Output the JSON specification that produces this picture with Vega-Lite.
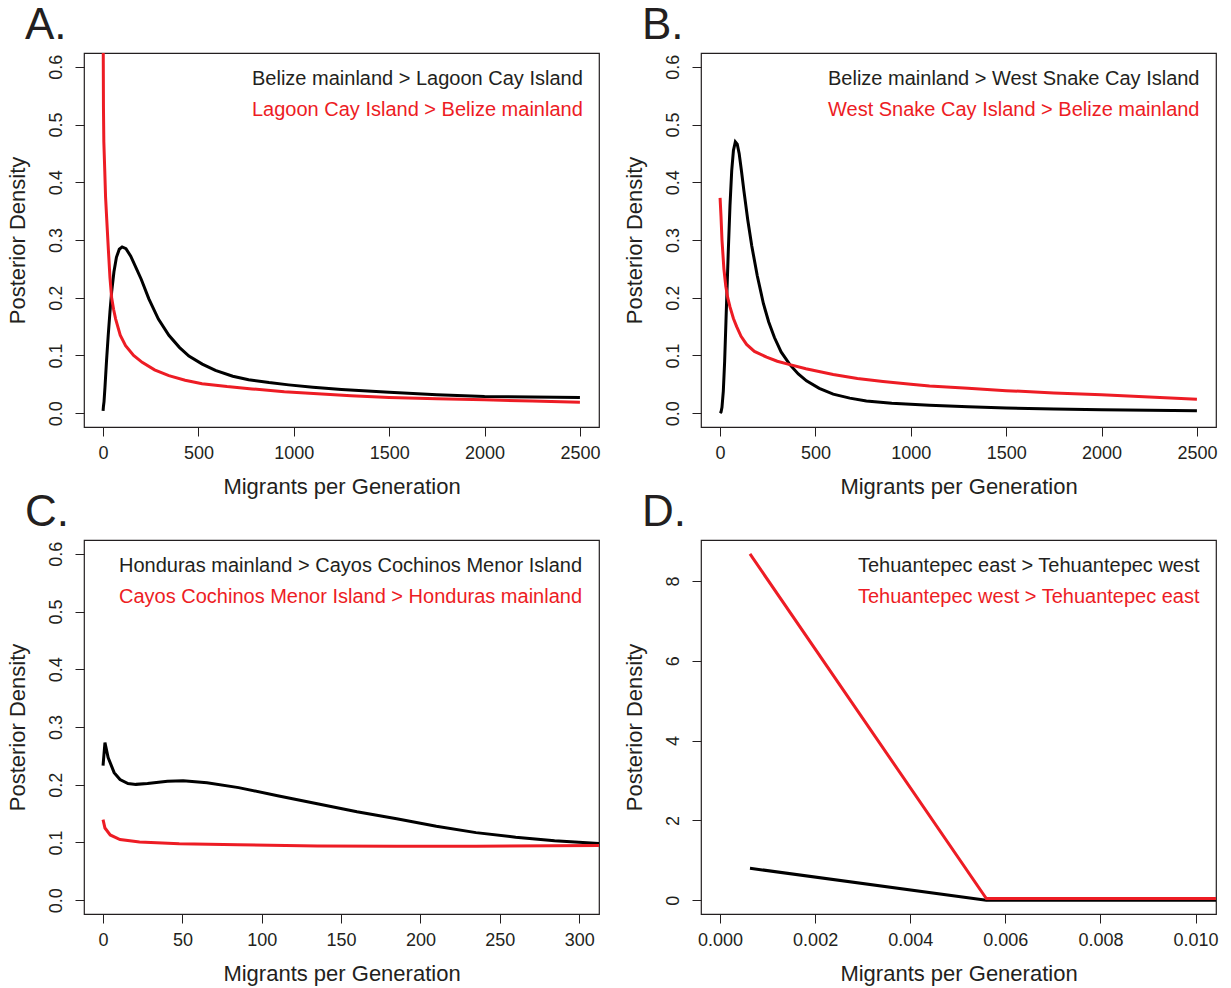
{
  "$schema": "https://vega.github.io/schema/vega-lite/v6.json",
  "background": "white",
  "padding": {"left": 5, "top": 3, "right": 5, "bottom": 5},
  "columns": 2,
  "spacing": {"row": -8, "column": 21},
  "datasets": {
    "a": [
      {"x": 0, "y": 0.004, "s": "Belize mainland > Lagoon Cay Island"},
      {"x": 2, "y": 0.012, "s": "Belize mainland > Lagoon Cay Island"},
      {"x": 5, "y": 0.02, "s": "Belize mainland > Lagoon Cay Island"},
      {"x": 10, "y": 0.045, "s": "Belize mainland > Lagoon Cay Island"},
      {"x": 18, "y": 0.09, "s": "Belize mainland > Lagoon Cay Island"},
      {"x": 27, "y": 0.135, "s": "Belize mainland > Lagoon Cay Island"},
      {"x": 36, "y": 0.175, "s": "Belize mainland > Lagoon Cay Island"},
      {"x": 45, "y": 0.21, "s": "Belize mainland > Lagoon Cay Island"},
      {"x": 57, "y": 0.245, "s": "Belize mainland > Lagoon Cay Island"},
      {"x": 70, "y": 0.27, "s": "Belize mainland > Lagoon Cay Island"},
      {"x": 85, "y": 0.284, "s": "Belize mainland > Lagoon Cay Island"},
      {"x": 100, "y": 0.288, "s": "Belize mainland > Lagoon Cay Island"},
      {"x": 120, "y": 0.285, "s": "Belize mainland > Lagoon Cay Island"},
      {"x": 145, "y": 0.272, "s": "Belize mainland > Lagoon Cay Island"},
      {"x": 170, "y": 0.254, "s": "Belize mainland > Lagoon Cay Island"},
      {"x": 200, "y": 0.232, "s": "Belize mainland > Lagoon Cay Island"},
      {"x": 240, "y": 0.198, "s": "Belize mainland > Lagoon Cay Island"},
      {"x": 290, "y": 0.163, "s": "Belize mainland > Lagoon Cay Island"},
      {"x": 345, "y": 0.135, "s": "Belize mainland > Lagoon Cay Island"},
      {"x": 400, "y": 0.114, "s": "Belize mainland > Lagoon Cay Island"},
      {"x": 450, "y": 0.099, "s": "Belize mainland > Lagoon Cay Island"},
      {"x": 520, "y": 0.085, "s": "Belize mainland > Lagoon Cay Island"},
      {"x": 589, "y": 0.074, "s": "Belize mainland > Lagoon Cay Island"},
      {"x": 680, "y": 0.064, "s": "Belize mainland > Lagoon Cay Island"},
      {"x": 763, "y": 0.058, "s": "Belize mainland > Lagoon Cay Island"},
      {"x": 870, "y": 0.053, "s": "Belize mainland > Lagoon Cay Island"},
      {"x": 973, "y": 0.049, "s": "Belize mainland > Lagoon Cay Island"},
      {"x": 1100, "y": 0.045, "s": "Belize mainland > Lagoon Cay Island"},
      {"x": 1250, "y": 0.041, "s": "Belize mainland > Lagoon Cay Island"},
      {"x": 1500, "y": 0.036, "s": "Belize mainland > Lagoon Cay Island"},
      {"x": 1750, "y": 0.032, "s": "Belize mainland > Lagoon Cay Island"},
      {"x": 2000, "y": 0.029, "s": "Belize mainland > Lagoon Cay Island"},
      {"x": 2250, "y": 0.028, "s": "Belize mainland > Lagoon Cay Island"},
      {"x": 2500, "y": 0.027, "s": "Belize mainland > Lagoon Cay Island"},
      {"x": 0, "y": 0.9, "s": "Lagoon Cay Island > Belize mainland"},
      {"x": 1, "y": 0.62, "s": "Lagoon Cay Island > Belize mainland"},
      {"x": 2, "y": 0.53, "s": "Lagoon Cay Island > Belize mainland"},
      {"x": 4, "y": 0.47, "s": "Lagoon Cay Island > Belize mainland"},
      {"x": 8.5, "y": 0.424, "s": "Lagoon Cay Island > Belize mainland"},
      {"x": 13, "y": 0.375, "s": "Lagoon Cay Island > Belize mainland"},
      {"x": 19, "y": 0.337, "s": "Lagoon Cay Island > Belize mainland"},
      {"x": 28, "y": 0.282, "s": "Lagoon Cay Island > Belize mainland"},
      {"x": 36, "y": 0.235, "s": "Lagoon Cay Island > Belize mainland"},
      {"x": 45, "y": 0.2, "s": "Lagoon Cay Island > Belize mainland"},
      {"x": 55, "y": 0.18, "s": "Lagoon Cay Island > Belize mainland"},
      {"x": 66, "y": 0.163, "s": "Lagoon Cay Island > Belize mainland"},
      {"x": 90, "y": 0.135, "s": "Lagoon Cay Island > Belize mainland"},
      {"x": 118, "y": 0.117, "s": "Lagoon Cay Island > Belize mainland"},
      {"x": 160, "y": 0.1, "s": "Lagoon Cay Island > Belize mainland"},
      {"x": 205, "y": 0.088, "s": "Lagoon Cay Island > Belize mainland"},
      {"x": 270, "y": 0.075, "s": "Lagoon Cay Island > Belize mainland"},
      {"x": 345, "y": 0.065, "s": "Lagoon Cay Island > Belize mainland"},
      {"x": 430, "y": 0.057, "s": "Lagoon Cay Island > Belize mainland"},
      {"x": 519, "y": 0.051, "s": "Lagoon Cay Island > Belize mainland"},
      {"x": 650, "y": 0.046, "s": "Lagoon Cay Island > Belize mainland"},
      {"x": 781, "y": 0.042, "s": "Lagoon Cay Island > Belize mainland"},
      {"x": 950, "y": 0.037, "s": "Lagoon Cay Island > Belize mainland"},
      {"x": 1147, "y": 0.033, "s": "Lagoon Cay Island > Belize mainland"},
      {"x": 1300, "y": 0.03, "s": "Lagoon Cay Island > Belize mainland"},
      {"x": 1500, "y": 0.027, "s": "Lagoon Cay Island > Belize mainland"},
      {"x": 1750, "y": 0.025, "s": "Lagoon Cay Island > Belize mainland"},
      {"x": 2000, "y": 0.023, "s": "Lagoon Cay Island > Belize mainland"},
      {"x": 2250, "y": 0.021, "s": "Lagoon Cay Island > Belize mainland"},
      {"x": 2500, "y": 0.019, "s": "Lagoon Cay Island > Belize mainland"}
    ],
    "b": [
      {"x": 0, "y": 0, "s": "Belize mainland > West Snake Cay Island"},
      {"x": 5, "y": 0.002, "s": "Belize mainland > West Snake Cay Island"},
      {"x": 10, "y": 0.01, "s": "Belize mainland > West Snake Cay Island"},
      {"x": 17, "y": 0.038, "s": "Belize mainland > West Snake Cay Island"},
      {"x": 24, "y": 0.09, "s": "Belize mainland > West Snake Cay Island"},
      {"x": 31, "y": 0.16, "s": "Belize mainland > West Snake Cay Island"},
      {"x": 37, "y": 0.22, "s": "Belize mainland > West Snake Cay Island"},
      {"x": 43, "y": 0.28, "s": "Belize mainland > West Snake Cay Island"},
      {"x": 52, "y": 0.36, "s": "Belize mainland > West Snake Cay Island"},
      {"x": 61, "y": 0.42, "s": "Belize mainland > West Snake Cay Island"},
      {"x": 70, "y": 0.455, "s": "Belize mainland > West Snake Cay Island"},
      {"x": 80, "y": 0.47, "s": "Belize mainland > West Snake Cay Island"},
      {"x": 90, "y": 0.466, "s": "Belize mainland > West Snake Cay Island"},
      {"x": 100, "y": 0.45, "s": "Belize mainland > West Snake Cay Island"},
      {"x": 112, "y": 0.42, "s": "Belize mainland > West Snake Cay Island"},
      {"x": 125, "y": 0.385, "s": "Belize mainland > West Snake Cay Island"},
      {"x": 145, "y": 0.335, "s": "Belize mainland > West Snake Cay Island"},
      {"x": 166, "y": 0.29, "s": "Belize mainland > West Snake Cay Island"},
      {"x": 195, "y": 0.238, "s": "Belize mainland > West Snake Cay Island"},
      {"x": 227, "y": 0.19, "s": "Belize mainland > West Snake Cay Island"},
      {"x": 255, "y": 0.158, "s": "Belize mainland > West Snake Cay Island"},
      {"x": 285, "y": 0.131, "s": "Belize mainland > West Snake Cay Island"},
      {"x": 320, "y": 0.106, "s": "Belize mainland > West Snake Cay Island"},
      {"x": 366, "y": 0.084, "s": "Belize mainland > West Snake Cay Island"},
      {"x": 410, "y": 0.068, "s": "Belize mainland > West Snake Cay Island"},
      {"x": 453, "y": 0.056, "s": "Belize mainland > West Snake Cay Island"},
      {"x": 520, "y": 0.043, "s": "Belize mainland > West Snake Cay Island"},
      {"x": 593, "y": 0.033, "s": "Belize mainland > West Snake Cay Island"},
      {"x": 680, "y": 0.026, "s": "Belize mainland > West Snake Cay Island"},
      {"x": 767, "y": 0.021, "s": "Belize mainland > West Snake Cay Island"},
      {"x": 900, "y": 0.017, "s": "Belize mainland > West Snake Cay Island"},
      {"x": 1098, "y": 0.0135, "s": "Belize mainland > West Snake Cay Island"},
      {"x": 1300, "y": 0.011, "s": "Belize mainland > West Snake Cay Island"},
      {"x": 1500, "y": 0.009, "s": "Belize mainland > West Snake Cay Island"},
      {"x": 1750, "y": 0.007, "s": "Belize mainland > West Snake Cay Island"},
      {"x": 2000, "y": 0.006, "s": "Belize mainland > West Snake Cay Island"},
      {"x": 2250, "y": 0.005, "s": "Belize mainland > West Snake Cay Island"},
      {"x": 2500, "y": 0.004, "s": "Belize mainland > West Snake Cay Island"},
      {"x": 0, "y": 0.373, "s": "West Snake Cay Island > Belize mainland"},
      {"x": 5, "y": 0.34, "s": "West Snake Cay Island > Belize mainland"},
      {"x": 10, "y": 0.3, "s": "West Snake Cay Island > Belize mainland"},
      {"x": 20, "y": 0.25, "s": "West Snake Cay Island > Belize mainland"},
      {"x": 30, "y": 0.22, "s": "West Snake Cay Island > Belize mainland"},
      {"x": 40, "y": 0.2, "s": "West Snake Cay Island > Belize mainland"},
      {"x": 52, "y": 0.184, "s": "West Snake Cay Island > Belize mainland"},
      {"x": 70, "y": 0.164, "s": "West Snake Cay Island > Belize mainland"},
      {"x": 87, "y": 0.15, "s": "West Snake Cay Island > Belize mainland"},
      {"x": 110, "y": 0.133, "s": "West Snake Cay Island > Belize mainland"},
      {"x": 139, "y": 0.119, "s": "West Snake Cay Island > Belize mainland"},
      {"x": 180, "y": 0.107, "s": "West Snake Cay Island > Belize mainland"},
      {"x": 244, "y": 0.097, "s": "West Snake Cay Island > Belize mainland"},
      {"x": 300, "y": 0.09, "s": "West Snake Cay Island > Belize mainland"},
      {"x": 366, "y": 0.084, "s": "West Snake Cay Island > Belize mainland"},
      {"x": 450, "y": 0.077, "s": "West Snake Cay Island > Belize mainland"},
      {"x": 593, "y": 0.067, "s": "West Snake Cay Island > Belize mainland"},
      {"x": 720, "y": 0.06, "s": "West Snake Cay Island > Belize mainland"},
      {"x": 854, "y": 0.055, "s": "West Snake Cay Island > Belize mainland"},
      {"x": 1000, "y": 0.05, "s": "West Snake Cay Island > Belize mainland"},
      {"x": 1098, "y": 0.047, "s": "West Snake Cay Island > Belize mainland"},
      {"x": 1300, "y": 0.043, "s": "West Snake Cay Island > Belize mainland"},
      {"x": 1500, "y": 0.039, "s": "West Snake Cay Island > Belize mainland"},
      {"x": 1750, "y": 0.035, "s": "West Snake Cay Island > Belize mainland"},
      {"x": 2000, "y": 0.032, "s": "West Snake Cay Island > Belize mainland"},
      {"x": 2250, "y": 0.028, "s": "West Snake Cay Island > Belize mainland"},
      {"x": 2500, "y": 0.024, "s": "West Snake Cay Island > Belize mainland"}
    ],
    "c": [
      {"x": 0, "y": 0.233, "s": "Honduras mainland > Cayos Cochinos Menor Island"},
      {"x": 1.2, "y": 0.273, "s": "Honduras mainland > Cayos Cochinos Menor Island"},
      {"x": 3.2, "y": 0.247, "s": "Honduras mainland > Cayos Cochinos Menor Island"},
      {"x": 7, "y": 0.221, "s": "Honduras mainland > Cayos Cochinos Menor Island"},
      {"x": 10.7, "y": 0.209, "s": "Honduras mainland > Cayos Cochinos Menor Island"},
      {"x": 15.7, "y": 0.202, "s": "Honduras mainland > Cayos Cochinos Menor Island"},
      {"x": 20.7, "y": 0.2006, "s": "Honduras mainland > Cayos Cochinos Menor Island"},
      {"x": 28, "y": 0.202, "s": "Honduras mainland > Cayos Cochinos Menor Island"},
      {"x": 40.6, "y": 0.206, "s": "Honduras mainland > Cayos Cochinos Menor Island"},
      {"x": 50.5, "y": 0.207, "s": "Honduras mainland > Cayos Cochinos Menor Island"},
      {"x": 65.5, "y": 0.2035, "s": "Honduras mainland > Cayos Cochinos Menor Island"},
      {"x": 85.4, "y": 0.195, "s": "Honduras mainland > Cayos Cochinos Menor Island"},
      {"x": 110, "y": 0.181, "s": "Honduras mainland > Cayos Cochinos Menor Island"},
      {"x": 135, "y": 0.167, "s": "Honduras mainland > Cayos Cochinos Menor Island"},
      {"x": 160, "y": 0.153, "s": "Honduras mainland > Cayos Cochinos Menor Island"},
      {"x": 185, "y": 0.141, "s": "Honduras mainland > Cayos Cochinos Menor Island"},
      {"x": 210, "y": 0.128, "s": "Honduras mainland > Cayos Cochinos Menor Island"},
      {"x": 235, "y": 0.117, "s": "Honduras mainland > Cayos Cochinos Menor Island"},
      {"x": 260, "y": 0.109, "s": "Honduras mainland > Cayos Cochinos Menor Island"},
      {"x": 284.5, "y": 0.103, "s": "Honduras mainland > Cayos Cochinos Menor Island"},
      {"x": 313, "y": 0.098, "s": "Honduras mainland > Cayos Cochinos Menor Island"},
      {"x": 0, "y": 0.1395, "s": "Cayos Cochinos Menor Island > Honduras mainland"},
      {"x": 1.2, "y": 0.125, "s": "Cayos Cochinos Menor Island > Honduras mainland"},
      {"x": 4.5, "y": 0.113, "s": "Cayos Cochinos Menor Island > Honduras mainland"},
      {"x": 10.7, "y": 0.105, "s": "Cayos Cochinos Menor Island > Honduras mainland"},
      {"x": 23, "y": 0.1006, "s": "Cayos Cochinos Menor Island > Honduras mainland"},
      {"x": 48, "y": 0.0977, "s": "Cayos Cochinos Menor Island > Honduras mainland"},
      {"x": 85, "y": 0.096, "s": "Cayos Cochinos Menor Island > Honduras mainland"},
      {"x": 135, "y": 0.094, "s": "Cayos Cochinos Menor Island > Honduras mainland"},
      {"x": 185, "y": 0.0936, "s": "Cayos Cochinos Menor Island > Honduras mainland"},
      {"x": 235, "y": 0.0936, "s": "Cayos Cochinos Menor Island > Honduras mainland"},
      {"x": 313, "y": 0.0948, "s": "Cayos Cochinos Menor Island > Honduras mainland"}
    ],
    "d": [
      {"x": 0.00063, "y": 0.8, "s": "Tehuantepec east > Tehuantepec west"},
      {"x": 0.0056, "y": 0.0, "s": "Tehuantepec east > Tehuantepec west"},
      {"x": 0.0106, "y": 0.0, "s": "Tehuantepec east > Tehuantepec west"},
      {"x": 0.00063, "y": 8.68, "s": "Tehuantepec west > Tehuantepec east"},
      {"x": 0.0056, "y": 0.04, "s": "Tehuantepec west > Tehuantepec east"},
      {"x": 0.0106, "y": 0.04, "s": "Tehuantepec west > Tehuantepec east"}
    ]
  },
  "concat": [
    {
      "title": "A.",
      "width": 515, "height": 374,
      "data": {"name": "a"},
      "mark": {"type": "line", "clip": true},
      "encoding": {
        "x": {"field": "x", "type": "quantitative", "scale": {"domain": [-100, 2600], "nice": false, "zero": false}, "axis": {"values": [0, 500, 1000, 1500, 2000, 2500], "format": "d", "title": "Migrants per Generation"}},
        "y": {"field": "y", "type": "quantitative", "scale": {"domain": [-0.024, 0.624], "nice": false, "zero": false}, "axis": {"values": [0, 0.1, 0.2, 0.3, 0.4, 0.5, 0.6], "format": ".1f", "title": "Posterior Density"}},
        "color": {"field": "s", "type": "nominal", "scale": {"domain": ["Belize mainland > Lagoon Cay Island", "Lagoon Cay Island > Belize mainland"], "range": ["#000000", "#ed1c24"]},
          "legend": {"labelColor": {"expr": "(datum.label === 'Lagoon Cay Island > Belize mainland' || datum.index === 1) ? '#ed1c24' : '#231f20'"}}}
      }
    },
    {
      "title": "B.",
      "width": 515, "height": 374,
      "data": {"name": "b"},
      "mark": {"type": "line", "clip": true},
      "encoding": {
        "x": {"field": "x", "type": "quantitative", "scale": {"domain": [-100, 2600], "nice": false, "zero": false}, "axis": {"values": [0, 500, 1000, 1500, 2000, 2500], "format": "d", "title": "Migrants per Generation"}},
        "y": {"field": "y", "type": "quantitative", "scale": {"domain": [-0.024, 0.624], "nice": false, "zero": false}, "axis": {"values": [0, 0.1, 0.2, 0.3, 0.4, 0.5, 0.6], "format": ".1f", "title": "Posterior Density"}},
        "color": {"field": "s", "type": "nominal", "scale": {"domain": ["Belize mainland > West Snake Cay Island", "West Snake Cay Island > Belize mainland"], "range": ["#000000", "#ed1c24"]},
          "legend": {"labelColor": {"expr": "(datum.label === 'West Snake Cay Island > Belize mainland' || datum.index === 1) ? '#ed1c24' : '#231f20'"}}}
      }
    },
    {
      "title": "C.",
      "width": 515, "height": 374,
      "data": {"name": "c"},
      "mark": {"type": "line", "clip": true},
      "encoding": {
        "x": {"field": "x", "type": "quantitative", "scale": {"domain": [-12, 312.5], "nice": false, "zero": false}, "axis": {"values": [0, 50, 100, 150, 200, 250, 300], "title": "Migrants per Generation"}},
        "y": {"field": "y", "type": "quantitative", "scale": {"domain": [-0.024, 0.624], "nice": false, "zero": false}, "axis": {"values": [0, 0.1, 0.2, 0.3, 0.4, 0.5, 0.6], "format": ".1f", "title": "Posterior Density"}},
        "color": {"field": "s", "type": "nominal", "scale": {"domain": ["Honduras mainland > Cayos Cochinos Menor Island", "Cayos Cochinos Menor Island > Honduras mainland"], "range": ["#000000", "#ed1c24"]},
          "legend": {"labelColor": {"expr": "(datum.label === 'Cayos Cochinos Menor Island > Honduras mainland' || datum.index === 1) ? '#ed1c24' : '#231f20'"}}}
      }
    },
    {
      "title": "D.",
      "width": 515, "height": 374,
      "data": {"name": "d"},
      "mark": {"type": "line", "clip": true},
      "encoding": {
        "x": {"field": "x", "type": "quantitative", "scale": {"domain": [-0.0004, 0.01043], "nice": false, "zero": false}, "axis": {"values": [0, 0.002, 0.004, 0.006, 0.008, 0.01], "format": ".3f", "title": "Migrants per Generation"}},
        "y": {"field": "y", "type": "quantitative", "scale": {"domain": [-0.347, 9.03], "nice": false, "zero": false}, "axis": {"values": [0, 2, 4, 6, 8], "format": "d", "title": "Posterior Density"}},
        "color": {"field": "s", "type": "nominal", "scale": {"domain": ["Tehuantepec east > Tehuantepec west", "Tehuantepec west > Tehuantepec east"], "range": ["#000000", "#ed1c24"]},
          "legend": {"labelColor": {"expr": "(datum.label === 'Tehuantepec west > Tehuantepec east' || datum.index === 1) ? '#ed1c24' : '#231f20'"}}}
      }
    }
  ],
  "resolve": {"scale": {"color": "independent", "x": "independent", "y": "independent"}, "legend": {"color": "independent"}},
  "config": {
    "font": "Liberation Sans",
    "view": {"stroke": "#231f20", "strokeWidth": 1.2},
    "line": {"strokeWidth": 3},
    "axis": {"domain": false, "grid": false, "tickColor": "#231f20", "tickSize": 9, "tickWidth": 1, "labelFont": "Liberation Sans", "labelFontSize": 18, "labelColor": "#231f20", "titleFont": "Liberation Sans", "titleFontSize": 22, "titleFontWeight": "normal", "titleColor": "#231f20", "labelFlush": false, "labelOverlap": false},
    "axisY": {"labelAngle": -90, "labelAlign": "center", "labelBaseline": "alphabetic", "labelPadding": 14, "titlePadding": 18},
    "axisX": {"labelPadding": 8, "titlePadding": 14},
    "title": {"anchor": "start", "frame": "group", "fontSize": 44, "fontWeight": "normal", "font": "Liberation Sans", "color": "#231f20", "dx": -59, "offset": 5, "baseline": "alphabetic"},
    "legend": {"orient": "top-right", "offset": 14, "padding": 2, "title": null, "symbolSize": 0, "symbolStrokeWidth": 0, "symbolOpacity": 0, "labelOffset": 0, "labelFontSize": 20, "labelFont": "Liberation Sans", "rowPadding": 11, "labelLimit": 700}
  }
}
